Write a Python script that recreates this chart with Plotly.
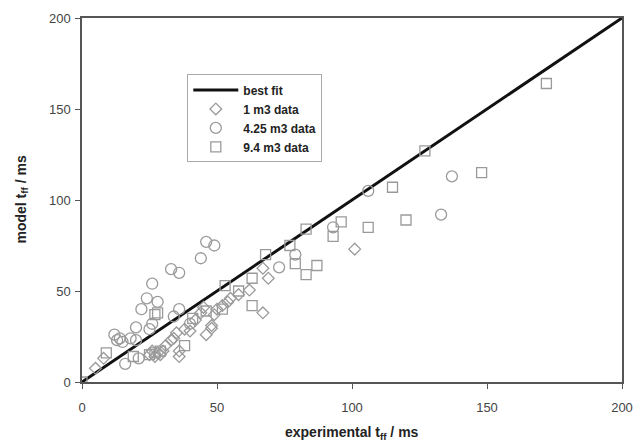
import plotly.graph_objects as go

# best fit line
fit_x = [0, 200]
fit_y = [0, 200]

# 1 m3 data (diamonds)
d1_x = [5, 8, 25, 26, 27, 28, 29, 30, 31, 33, 34, 35, 36, 36, 38, 40, 42, 44, 45, 46, 48, 48, 49, 50, 52, 54, 55, 58, 62, 67, 67, 69, 101]
d1_y = [7.5, 13, 15, 17, 14, 16, 15, 17, 20, 23, 24, 27, 14, 17, 29, 28, 34, 38, 41, 26, 29.5, 31, 37, 40, 42, 44, 46, 48, 50.5, 38, 62.5, 57, 73]

# 4.25 m3 data (circles)
d2_x = [12, 13, 14, 15, 16, 18, 20, 20, 21, 22, 24, 25, 26, 26, 28, 33, 34, 36, 36, 40, 44, 46, 49, 73, 79, 93, 106, 133, 137]
d2_y = [26, 23, 24, 22, 10, 24, 23, 30, 13, 40, 46, 29, 32, 54, 44, 62, 36, 60, 40, 32, 68, 77, 75, 63, 70, 85, 105, 92, 113]

# 9.4 m3 data (squares)
d3_x = [0, 9, 19, 25, 27, 27, 28, 29, 38, 41, 46, 52, 53, 58, 63, 63, 68, 77, 79, 83, 83, 87, 93, 96, 106, 115, 120, 127, 148, 172]
d3_y = [0, 16, 14, 15, 16, 37, 38, 17, 20, 35, 39, 40, 53, 50, 42, 57, 70, 75, 65, 59, 84, 64, 80, 88, 85, 107, 89, 127, 115, 164]

x_ticks = [0, 50, 100, 150, 200]
y_ticks = [0, 50, 100, 150, 200]

gray = "#9a9a9a"
fig = go.Figure()
fig.add_trace(go.Scatter(x=fit_x, y=fit_y, mode="lines", name="<b>best fit</b>",
                         line=dict(color="#111111", width=3)))
fig.add_trace(go.Scatter(x=d1_x, y=d1_y, mode="markers", name="<b>1 m3 data</b>",
                         marker=dict(symbol="diamond-open", size=9, color=gray, line=dict(width=1.3))))
fig.add_trace(go.Scatter(x=d2_x, y=d2_y, mode="markers", name="<b>4.25 m3 data</b>",
                         marker=dict(symbol="circle-open", size=11, color=gray, line=dict(width=1.3))))
fig.add_trace(go.Scatter(x=d3_x, y=d3_y, mode="markers", name="<b>9.4 m3 data</b>",
                         marker=dict(symbol="square-open", size=10, color=gray, line=dict(width=1.3))))

axis_common = dict(showgrid=False, zeroline=False, showline=True, mirror=True, automargin=False,
                   linecolor="#555555", linewidth=1.5, ticks="outside", ticklen=5,
                   tickcolor="#555555", tickfont=dict(family="Liberation Sans, Arial", size=13, color="#444444"))

fig.update_layout(
    width=633, height=443,
    margin=dict(l=82, r=11, t=18, b=61),
    plot_bgcolor="white", paper_bgcolor="white",
    font=dict(family="Liberation Sans, Arial", color="#222222"),
    xaxis=dict(range=[0, 200], tickvals=x_ticks, ticklabelstandoff=8, **axis_common),
    yaxis=dict(range=[0, 200], tickvals=y_ticks, ticklabelstandoff=2, **axis_common),
    showlegend=True,
    legend=dict(x=0.195, y=0.845, xanchor="left", yanchor="top",
                bgcolor="white", bordercolor="#aaaaaa", borderwidth=1,
                font=dict(family="Liberation Sans, Arial", size=12, color="#222222"),
                itemwidth=45),
    annotations=[
        dict(text="<b>experimental t<sub>ff</sub> / ms</b>", x=0.5, y=-0.14, xref="paper", yref="paper",
             xanchor="center", yanchor="middle", showarrow=False,
             font=dict(family="Liberation Sans, Arial", size=14, color="#222222")),
        dict(text="<b>model t<sub>ff</sub> / ms</b>", x=-0.112, y=0.5, xref="paper", yref="paper",
             xanchor="center", yanchor="middle", showarrow=False, textangle=-90,
             font=dict(family="Liberation Sans, Arial", size=14, color="#222222")),
    ],
)

fig.write_html("out.html")
